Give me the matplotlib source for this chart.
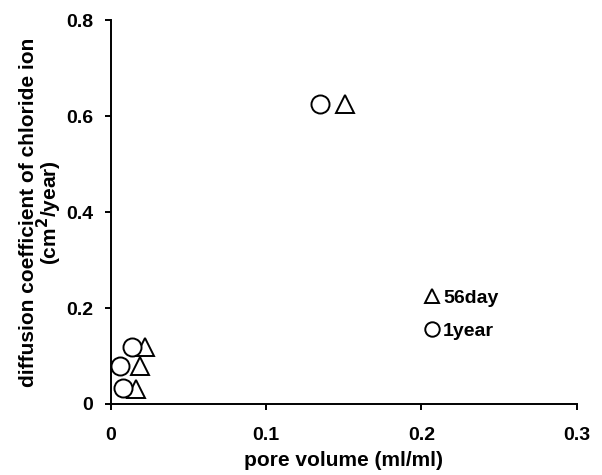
import numpy as np
import matplotlib.pyplot as plt

plt.rcParams['font.family'] = ['Liberation Sans', 'DejaVu Sans']
plt.rcParams['font.weight'] = 'bold'

# 56 day data
x56 = [0.151, 0.022, 0.019, 0.016]
y56 = [0.625, 0.118, 0.079, 0.031]
# 1 year data
x1y = [0.135, 0.0135, 0.006, 0.0077]
y1y = [0.625, 0.119, 0.079, 0.033]

fig = plt.figure(figsize=(6.02, 4.75), dpi=100)
ax = fig.add_axes([0.184, 0.1495, 0.774, 0.808])

ax.plot(x56, y56, '^', ms=13, mfc='white', mec='black', mew=1.4, ls='none', label='56day')
ax.plot(x1y, y1y, 'o', ms=13, mfc='white', mec='black', mew=1.4, ls='none', label='1year')

ax.set_xlim(0, 0.3)
ax.set_ylim(0, 0.8)
ax.set_xticks([0, 0.1, 0.2, 0.3])
ax.set_xticklabels(['0', '0.1', '0.2', '0.3'])
ax.set_yticks([0, 0.2, 0.4, 0.6, 0.8])
ax.set_yticklabels(['0', '0.2', '0.4', '0.6', '0.8'])

for s in ['top', 'right']:
    ax.spines[s].set_visible(False)
for s in ['left', 'bottom']:
    ax.spines[s].set_linewidth(1.4)
ax.tick_params(axis='both', direction='out', length=4.5, width=1.4, labelsize=14)
ax.tick_params(axis='y', pad=8)
ax.tick_params(axis='x', pad=12)

ax.set_xlabel('pore volume (ml/ml)', fontsize=15, fontweight='bold', labelpad=5)
ax.set_ylabel('diffusion coefficient of chloride ion\n(cm$^\\mathbf{2}$/year)', fontsize=15,
              fontweight='bold', labelpad=2, linespacing=0.85)

ax.legend(loc='center left', bbox_to_anchor=(0.672, 0.233), frameon=False, fontsize=14,
          handlelength=0.8, handletextpad=0.18, markerscale=0.8, labelspacing=0.8,
          borderpad=0, borderaxespad=0)

plt.savefig('out.png', dpi=100)
